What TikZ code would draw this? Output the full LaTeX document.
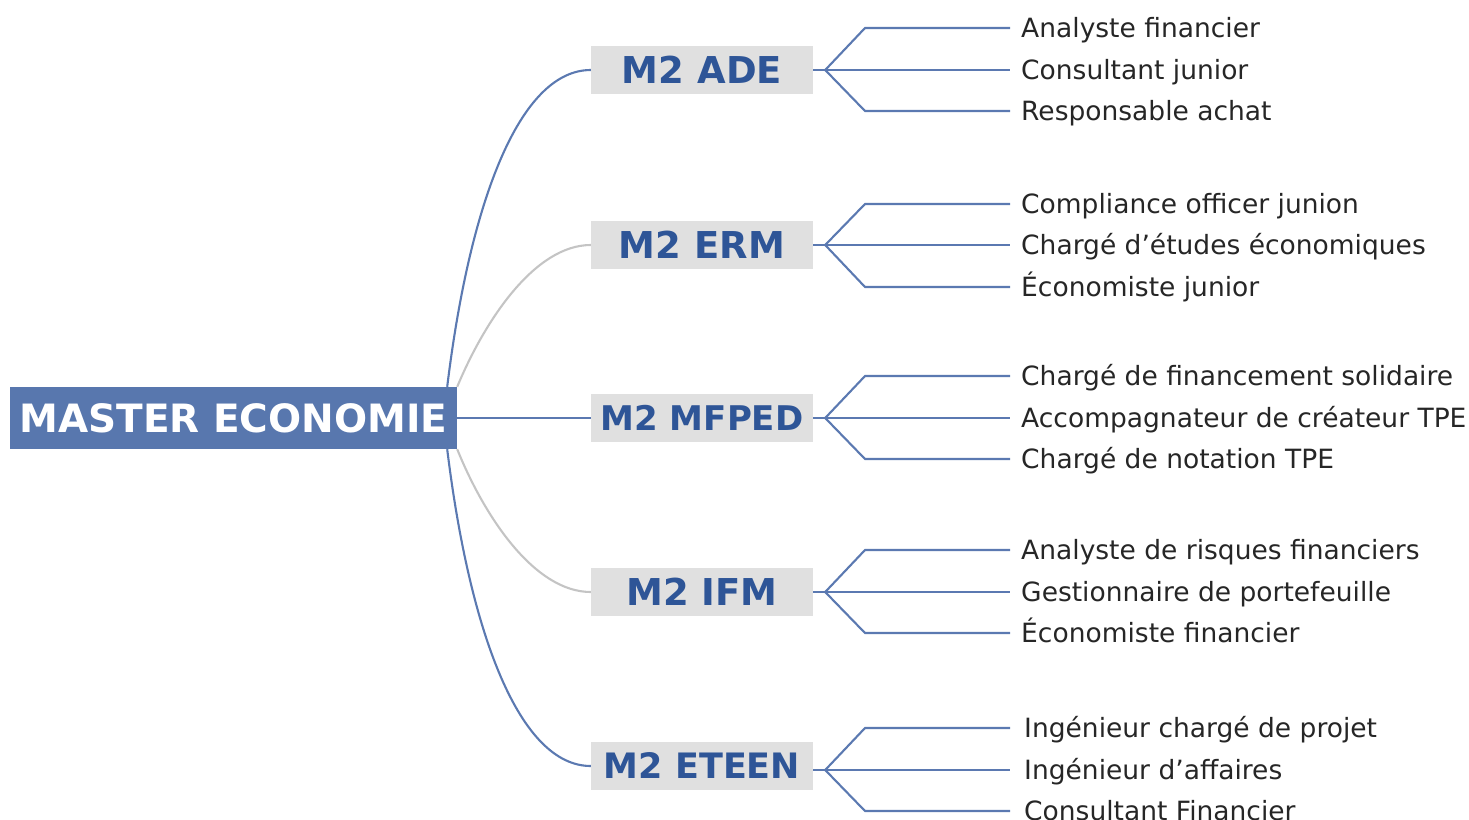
\documentclass[tikz,border=0pt]{standalone}
\usepackage{fontspec}
\setmainfont{DejaVu Sans}
\usepackage{tikz}
\usetikzlibrary{calc}
\definecolor{rootblue}{HTML}{5877AE}
\definecolor{titleblue}{HTML}{2E5597}
\definecolor{boxgray}{HTML}{E0E0E0}
\definecolor{wireblue}{HTML}{5B79B1}
\definecolor{wiregray}{HTML}{C4C4C4}
\definecolor{jobgray}{HTML}{262626}
\tikzset{
    rootbox/.style={shape=rectangle, fill=rootblue, text=white, inner sep=0pt,
        minimum width=447pt, minimum height=62pt, font=\fontsize{39}{39}\selectfont\bfseries},
    masterbox/.style={shape=rectangle, fill=boxgray, text=titleblue, inner sep=0pt,
        minimum width=222pt, minimum height=48pt, font=\fontsize{#1}{#1}\selectfont\bfseries},
    masterbox/.default=37,
    jobtext/.style={anchor=west, inner xsep=11pt, inner ysep=0pt, text height=19pt,
        text depth=0pt, text=jobgray, font=\fontsize{26.5}{26.5}\selectfont},
    bluewire/.style={draw=wireblue, line width=2.1pt},
    graywire/.style={draw=wiregray, line width=2.1pt},
}
\begin{document}
\begin{tikzpicture}[x=1pt, y=-1pt]
    \useasboundingbox (0, 0) rectangle (1469, 819);
    % Paths, nodes and wires:
    \node[rootbox](root) at (233.5, 418){MASTER ECONOMIE};
    \node[masterbox](ade) at (702, 70){M2 ADE};
    \node[masterbox](erm) at (702, 245){M2 ERM};
    \node[masterbox=34](mfped) at (702, 418){M2 MFPED};
    \node[masterbox](ifm) at (702, 592){M2 IFM};
    \node[masterbox=35](eteen) at (702, 766){M2 ETEEN};
    % jobs
    \node[jobtext](ade1) at (1010, 28){Analyste financier};
    \node[jobtext](ade2) at (1010, 70){Consultant junior};
    \node[jobtext](ade3) at (1010, 111){Responsable achat};
    \node[jobtext](erm1) at (1010, 204){Compliance officer junion};
    \node[jobtext](erm2) at (1010, 245){Chargé d’études économiques};
    \node[jobtext](erm3) at (1010, 287){Économiste junior};
    \node[jobtext](mfped1) at (1010, 376){Chargé de financement solidaire};
    \node[jobtext](mfped2) at (1010, 418){Accompagnateur de créateur TPE};
    \node[jobtext](mfped3) at (1010, 459){Chargé de notation TPE};
    \node[jobtext](ifm1) at (1010, 550){Analyste de risques financiers};
    \node[jobtext](ifm2) at (1010, 592){Gestionnaire de portefeuille};
    \node[jobtext](ifm3) at (1010, 633){Économiste financier};
    \node[jobtext, inner xsep=14pt](eteen1) at (1010, 728){Ingénieur chargé de projet};
    \node[jobtext, inner xsep=14pt](eteen2) at (1010, 770){Ingénieur d’affaires};
    \node[jobtext, inner xsep=14pt](eteen3) at (1010, 811){Consultant Financier};
    % root to masters
    \draw[bluewire] ($(root.north east)+(-10, 0)$) .. controls (470, 200) and (520, 70) .. (ade.west);
    \draw[graywire] (root.north east) .. controls (485, 320) and (535, 245) .. (erm.west);
    \draw[bluewire] (root.east) -- (mfped.west);
    \draw[graywire] (root.south east) .. controls (485, 518) and (535, 592) .. (ifm.west);
    \draw[bluewire] ($(root.south east)+(-10, 0)$) .. controls (470, 635) and (520, 766) .. (eteen.west);
    % masters to jobs
    \foreach \m/\dy in {ade/0, erm/0, mfped/0, ifm/0, eteen/4}{
        \coordinate (\m-j) at ($(\m.east)+(12, \dy)$);
        \draw[bluewire] ($(\m.east)+(0, \dy)$) -- (\m-j) -- (\m2.west);
        \draw[bluewire] (\m-j) -- (\m1.west -| 865, 0) -- (\m1.west);
        \draw[bluewire] (\m-j) -- (\m3.west -| 865, 0) -- (\m3.west);
    }
\end{tikzpicture}
\end{document}
